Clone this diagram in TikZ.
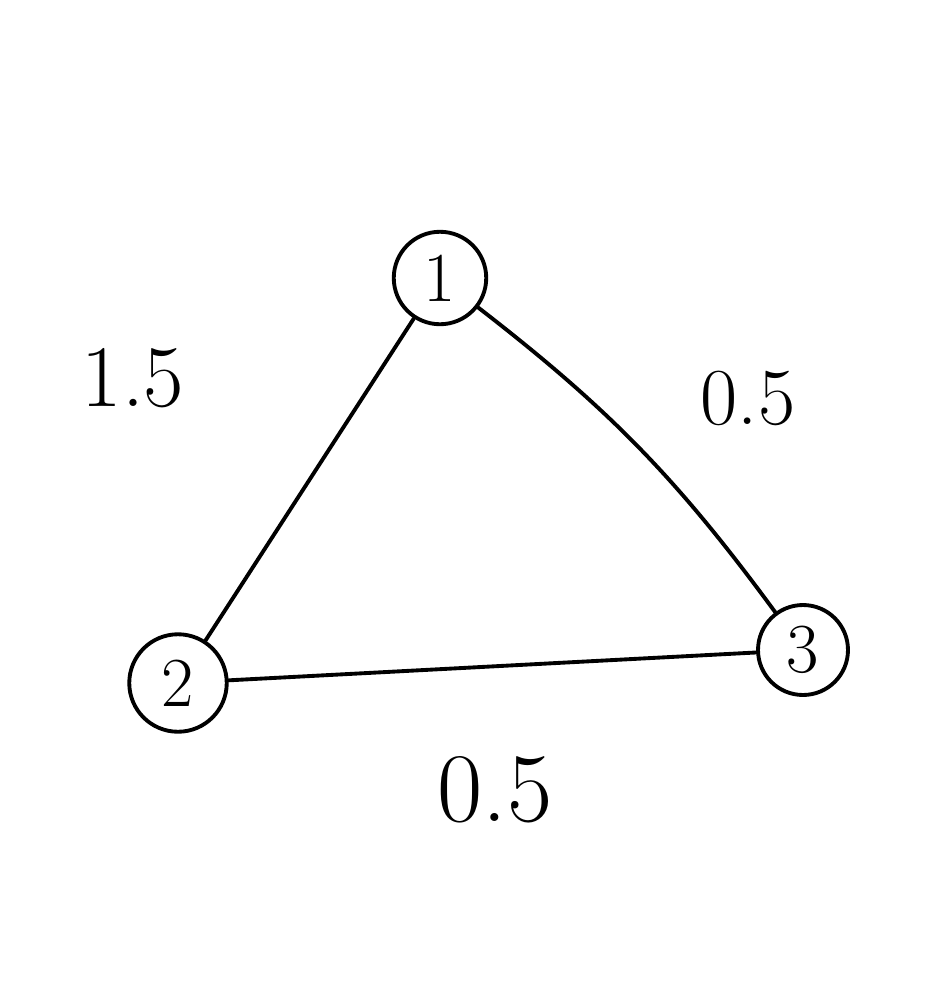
\documentclass[tikz,border=0pt]{standalone}
\usepackage{tikz}

\begin{document}
\begin{tikzpicture}[x=0.02cm, y=-0.02cm, line width=2.2pt, line cap=round,
    main/.style = {draw, circle, minimum size=1.85cm, inner sep=0pt, font=\fontsize{40}{40}\selectfont},
    weight/.style = {font=\fontsize{50}{50}\selectfont}]
			\useasboundingbox (0,0) rectangle (944,1005);
			\node[main] (1) at (440,278) {1};
			\node[main, minimum size=1.95cm] (2) at (178,683) {2};
			\node[main, minimum size=1.8cm] (3) at (803,650) {3};
			\draw (1) -- (2);
			\draw (1) to[bend left=8] (3);
			\draw (2) -- (3);
			\node[weight] (w12) at (133,378) {1.5};
			\node[weight, font=\fontsize{46}{46}\selectfont] (w13) at (748,398) {0.5};
			\node[weight, font=\fontsize{56}{56}\selectfont] (w23) at (495,790) {0.5};
		\end{tikzpicture}
\end{document}
